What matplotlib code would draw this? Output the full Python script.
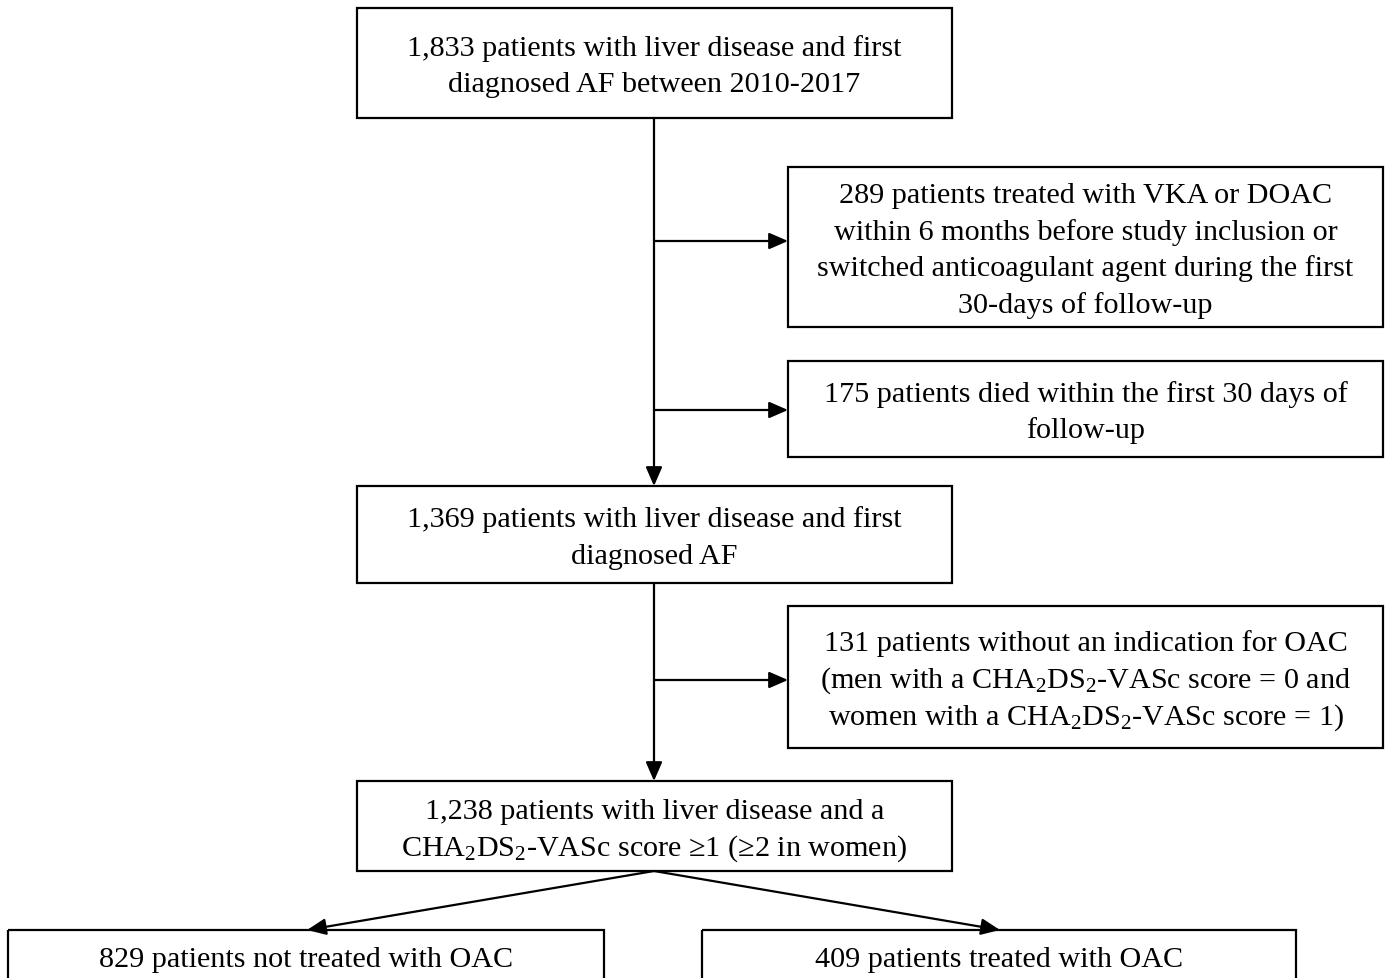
import matplotlib.pyplot as plt
from matplotlib.patches import Rectangle

plt.rcParams['font.family'] = ['Liberation Serif', 'DejaVu Serif']
plt.rcParams['mathtext.fontset'] = 'custom'
plt.rcParams['mathtext.rm'] = 'Liberation Serif'
plt.rcParams['mathtext.it'] = 'Liberation Serif:italic'

CHA = r'CHA$_2$DS$_2$-VASc'

# box texts, one entry per line
main_texts = [
    ['1,833 patients with liver disease and first', 'diagnosed AF between 2010-2017'],
    ['1,369 patients with liver disease and first', 'diagnosed AF'],
    ['1,238 patients with liver disease and a', CHA + ' score \u22651 (\u22652 in women)'],
]
excl_texts = [
    ['289 patients treated with VKA or DOAC', 'within 6 months before study inclusion or',
     'switched anticoagulant agent during the first', '30-days of follow-up'],
    ['175 patients died within the first 30 days of', 'follow-up'],
    ['131 patients without an indication for OAC', '(men with a ' + CHA + ' score = 0 and',
     'women with a ' + CHA + ' score = 1)'],
]
final_texts = [['829 patients not treated with OAC'], ['409 patients treated with OAC']]

# layout in pixels (x0, y0, x1, y1)
main_boxes = [(357, 9, 952, 119), (357, 487, 952, 584), (357, 782, 952, 872)]
excl_boxes = [(788, 168, 1383, 328), (788, 362, 1383, 458), (788, 607, 1383, 749)]
excl_y = [242, 411, 681]
final_boxes = [(8, 931, 604, 1010), (702, 931, 1296, 1010)]
spine_x = 654

fig = plt.figure(figsize=(13.87, 9.79), dpi=100)
ax = fig.add_axes([0, 0, 1, 1])
ax.set_xlim(0, 1387)
ax.set_ylim(979, 0)
ax.axis('off')

lw = 1.6
fs = 21.7
pitch = 36.7


def box(b, lines, yc=None):
    x0, y0, x1, y1 = b
    ax.add_patch(Rectangle((x0, y0), x1 - x0, y1 - y0, fill=False, lw=lw, ec='black'))
    yc = (y0 + y1) / 2 if yc is None else yc
    top = yc - (len(lines) - 1) * pitch / 2
    for i, t in enumerate(lines):
        ax.text((x0 + x1) / 2, top + i * pitch + 10, t, ha='center', va='baseline',
                fontsize=fs, color='black')


def arrow(x0, y0, x1, y1):
    ax.annotate('', xy=(x1, y1), xytext=(x0, y0),
                arrowprops=dict(arrowstyle='-|>,head_length=1.15,head_width=0.5',
                                lw=lw, color='black', shrinkA=0, shrinkB=0))


for b, t in zip(main_boxes, main_texts):
    box(b, t)
for b, t in zip(excl_boxes, excl_texts):
    box(b, t)
for b, t in zip(final_boxes, final_texts):
    box(b, t, yc=957)

# vertical spine arrows
arrow(spine_x, main_boxes[0][3], spine_x, main_boxes[1][1])
arrow(spine_x, main_boxes[1][3], spine_x, main_boxes[2][1])

# side arrows to exclusion boxes
for b, y in zip(excl_boxes, excl_y):
    arrow(spine_x, y, b[0], y)

# split arrows
for b, xt in zip(final_boxes, [307, 1000]):
    arrow(spine_x, main_boxes[2][3], xt, b[1])

fig.savefig('out.png', dpi=100)
